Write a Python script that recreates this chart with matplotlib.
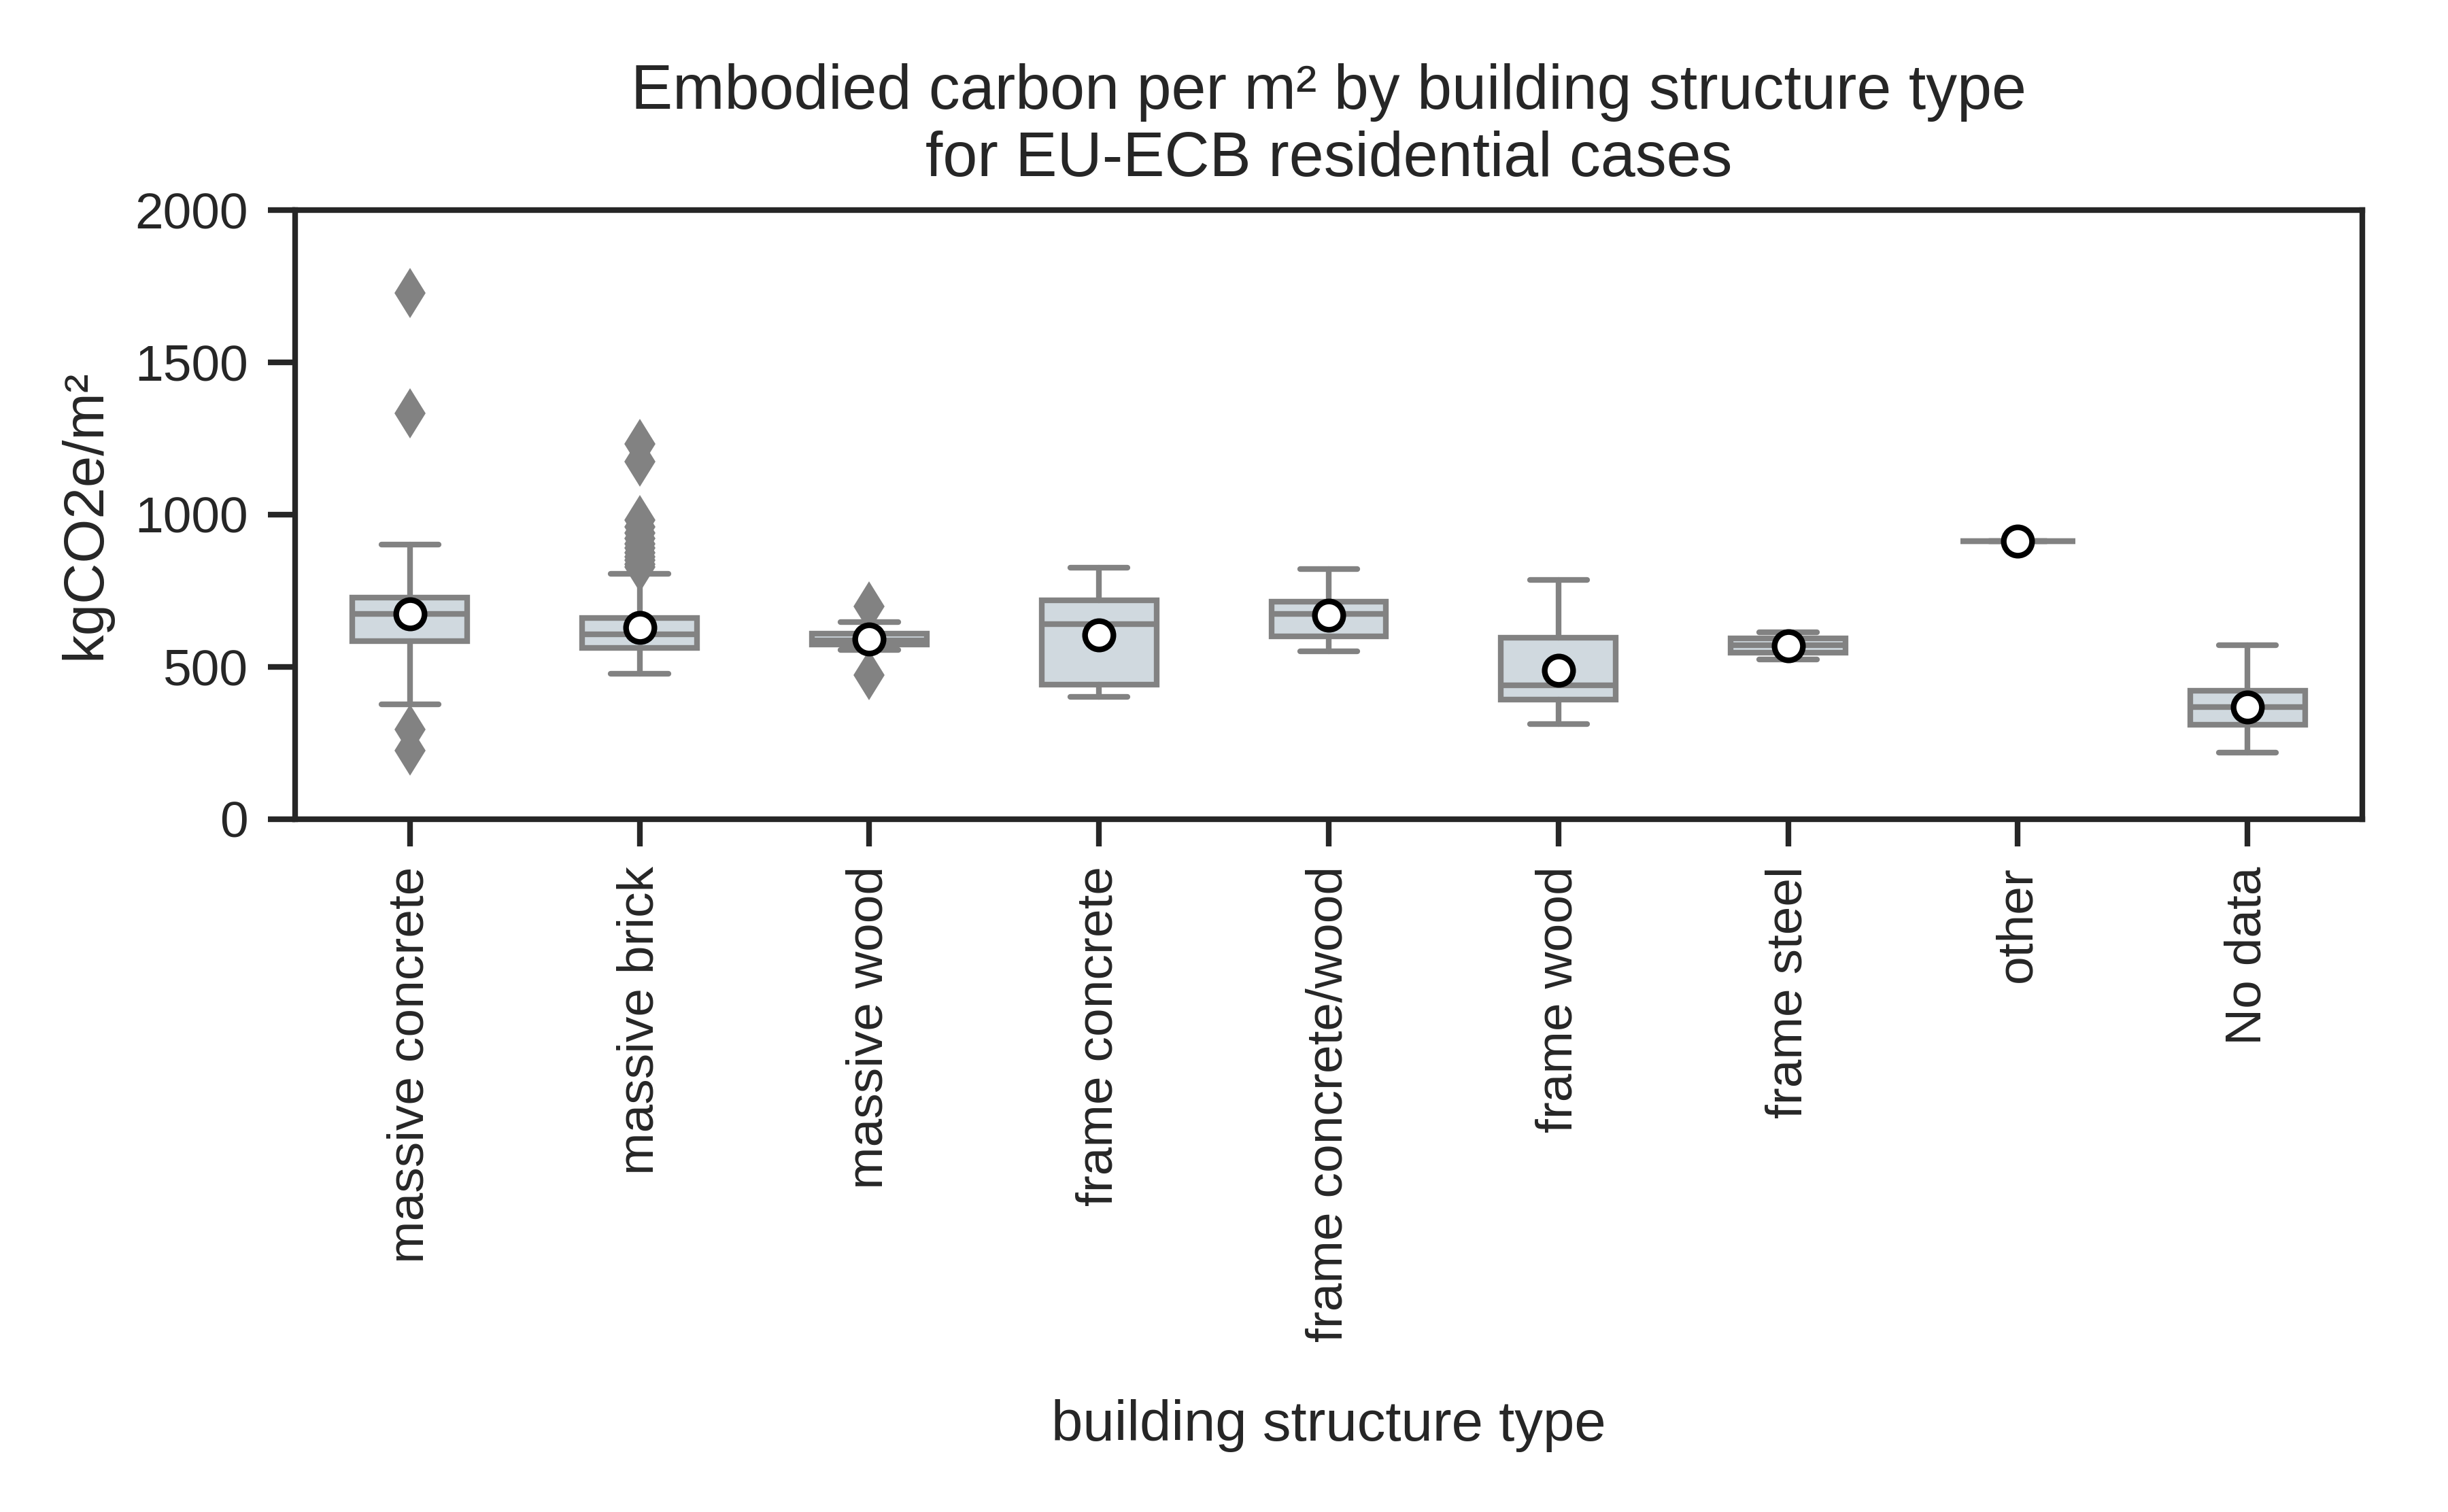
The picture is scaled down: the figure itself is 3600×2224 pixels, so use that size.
import matplotlib
matplotlib.use("Agg")
import matplotlib.pyplot as plt
import seaborn as sns

# ---- data ----
categories = ["massive concrete", "massive brick", "massive wood", "frame concrete",
              "frame concrete/wood", "frame wood", "frame steel", "other", "No data"]
whislo = [377, 478, 556, 402, 551, 312, 525, 913, 219]
q1     = [584, 563, 573, 443, 600, 392, 547, 913, 310]
median = [675, 607, 588, 641, 674, 439, 571, 913, 368]
q3     = [727, 660, 610, 718, 715, 595, 594, 913, 422]
whishi = [901, 805, 647, 827, 822, 785, 614, 913, 571]
means  = [675, 630, 592, 604, 670, 489, 569, 913, 368]
outliers_concrete = [1727, 1333, 295, 226]
outliers_brick = [1232, 1175, 982, 960, 940, 922, 905, 890, 876, 862, 850, 838, 828]
outliers_wood = [699, 473]
outliers = [outliers_concrete, outliers_brick, outliers_wood, [], [], [], [], [], []]
yticks = [0, 500, 1000, 1500, 2000]

title = "Embodied carbon per m\u00b2 by building structure type\nfor EU-ECB residential cases"
xlabel = "building structure type"
ylabel = "kgCO2e/m\u00b2"

# ---- style ----
sns.set_theme(context="paper", style="ticks")
plt.rcParams["font.family"] = ["Liberation Sans", "DejaVu Sans"]
text_color = "#262626"
plt.rcParams.update({
    "text.color": text_color, "axes.labelcolor": text_color,
    "xtick.color": text_color, "ytick.color": text_color,
    "axes.edgecolor": text_color,
})

box_edge = "#828282"
box_fill = "#d0d9df"

fig = plt.figure(figsize=(6, 2224 / 600), dpi=600)
ax = fig.add_axes([434 / 3600, 1 - 1205 / 2224, (3474 - 434) / 3600, (1205 - 309) / 2224])

stats = []
for i, cat in enumerate(categories):
    stats.append(dict(label=cat, whislo=whislo[i], q1=q1[i], med=median[i], q3=q3[i],
                      whishi=whishi[i], mean=means[i], fliers=outliers[i]))

positions = list(range(len(categories)))
lw = 1.0
ax.bxp(stats, positions=positions, widths=0.5, patch_artist=True,
       showmeans=True, showfliers=True,
       boxprops=dict(facecolor=box_fill, edgecolor=box_edge, linewidth=lw),
       medianprops=dict(color=box_edge, linewidth=lw),
       whiskerprops=dict(color=box_edge, linewidth=lw, solid_capstyle="round"),
       capprops=dict(color=box_edge, linewidth=lw, solid_capstyle="round"),
       capwidths=0.25,
       flierprops=dict(marker="d", markerfacecolor=box_edge, markeredgecolor=box_edge,
                       markersize=5, linestyle="none"),
       meanprops=dict(marker="o", markerfacecolor="white", markeredgecolor="black",
                      markersize=5, markeredgewidth=1.0))

ax.set_xlim(-0.5, len(categories) - 0.5)
ax.set_ylim(0, 2000)
ax.set_yticks(yticks)
ax.set_xticks(positions)
ax.set_xticklabels(categories, rotation=90, fontsize=9)
ax.tick_params(axis="y", labelsize=9)
for sp in ax.spines.values():
    sp.set_linewidth(1.0)
    sp.set_color(text_color)

ax.set_title(title, fontsize=11, color=text_color)
ax.set_xlabel(xlabel, fontsize=10, labelpad=10)
ax.set_ylabel(ylabel, fontsize=10)

fig.savefig("out.png", dpi=600)
